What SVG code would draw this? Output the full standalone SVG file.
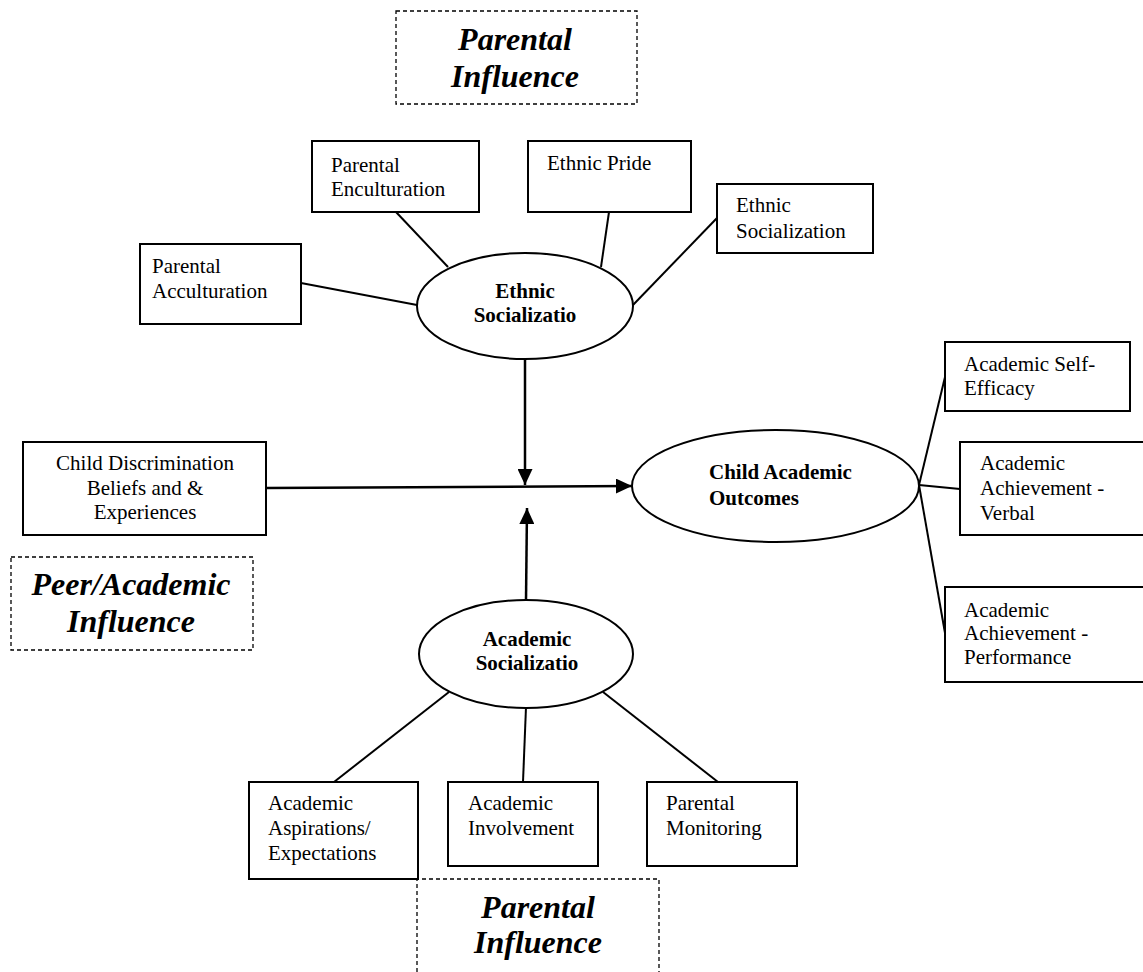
<svg xmlns="http://www.w3.org/2000/svg" width="1143" height="972" viewBox="0 0 1143 972">
<style>
.box{fill:#fff;stroke:#000;stroke-width:2}
.ell{fill:#fff;stroke:#000;stroke-width:2}
.dash{fill:none;stroke:#000;stroke-width:1.3;stroke-dasharray:4 3}
.t{font-family:"Liberation Serif","Times New Roman",serif;font-size:21px;fill:#000}
.b{font-family:"Liberation Serif","Times New Roman",serif;font-size:21px;font-weight:bold;fill:#000;text-anchor:middle}
.big{font-family:"Liberation Serif","Times New Roman",serif;font-size:32px;font-weight:bold;font-style:italic;fill:#000;text-anchor:middle}
.c{text-anchor:middle}
.ln{stroke:#000;stroke-width:2;fill:none}
.ar{stroke:#000;stroke-width:2.5;fill:none}
</style>
<defs>
<marker id="ah" markerUnits="userSpaceOnUse" markerWidth="16" markerHeight="15" refX="16" refY="7.5" orient="auto">
<path d="M0,0 L16,7.5 L0,15 z" fill="#000"/>
</marker>
</defs>
<rect width="1143" height="972" fill="#fff"/>

<g id="connectors">
<line class="ln" x1="301" y1="283" x2="417" y2="305"/>
<line class="ln" x1="396" y1="212" x2="448" y2="267"/>
<line class="ln" x1="609" y1="212" x2="601" y2="267"/>
<line class="ln" x1="717" y1="218" x2="633" y2="305"/>
<line class="ar" x1="525" y1="358" x2="525" y2="485" marker-end="url(#ah)"/>
<line class="ar" x1="266" y1="488" x2="632" y2="486" marker-end="url(#ah)"/>
<line class="ar" x1="526" y1="600" x2="527" y2="508" marker-end="url(#ah)"/>
<line class="ln" x1="919" y1="485" x2="945" y2="377"/>
<line class="ln" x1="919" y1="485" x2="960" y2="489"/>
<line class="ln" x1="919" y1="485" x2="945" y2="633"/>
<line class="ln" x1="449" y1="692" x2="334" y2="782"/>
<line class="ln" x1="526" y1="707" x2="523" y2="782"/>
<line class="ln" x1="603" y1="692" x2="718" y2="782"/>
</g>

<g id="label-parental-top">
<rect class="dash" x="396" y="11" width="241" height="93"/>
<text class="big" x="515" y="50">Parental</text>
<text class="big" x="515" y="87">Influence</text>
</g>

<g id="parental-enculturation">
<rect class="box" x="312" y="141" width="167" height="71"/>
<text class="t" x="331" y="172">Parental</text>
<text class="t" x="331" y="196">Enculturation</text>
</g>

<g id="ethnic-pride">
<rect class="box" x="528" y="141" width="163" height="71"/>
<text class="t" x="547" y="170">Ethnic Pride</text>
</g>

<g id="ethnic-socialization-box">
<rect class="box" x="717" y="184" width="156" height="69"/>
<text class="t" x="736" y="212">Ethnic</text>
<text class="t" x="736" y="238">Socialization</text>
</g>

<g id="parental-acculturation">
<rect class="box" x="140" y="244" width="161" height="80"/>
<text class="t" x="152" y="273">Parental</text>
<text class="t" x="152" y="298">Acculturation</text>
</g>

<g id="ethnic-socializatio">
<ellipse class="ell" cx="525" cy="306" rx="108" ry="53"/>
<text class="b" x="525" y="298">Ethnic</text>
<text class="b" x="525" y="322">Socializatio</text>
</g>

<g id="child-discrimination">
<rect class="box" x="23" y="442" width="243" height="93"/>
<text class="t c" x="145" y="470">Child Discrimination</text>
<text class="t c" x="145" y="495">Beliefs and &amp;</text>
<text class="t c" x="145" y="519">Experiences</text>
</g>

<g id="child-academic-outcomes">
<ellipse class="ell" cx="775.5" cy="486" rx="143.5" ry="56"/>
<text class="b" x="709" y="479" style="text-anchor:start">Child Academic</text>
<text class="b" x="709" y="505" style="text-anchor:start">Outcomes</text>
</g>

<g id="academic-self-efficacy">
<rect class="box" x="945" y="342" width="185" height="69"/>
<text class="t" x="964" y="371">Academic Self-</text>
<text class="t" x="964" y="395">Efficacy</text>
</g>

<g id="academic-achievement-verbal">
<rect class="box" x="960" y="442" width="191" height="93"/>
<text class="t" x="980" y="470">Academic</text>
<text class="t" x="980" y="495">Achievement -</text>
<text class="t" x="980" y="520">Verbal</text>
</g>

<g id="academic-achievement-performance">
<rect class="box" x="945" y="587" width="206" height="95"/>
<text class="t" x="964" y="617">Academic</text>
<text class="t" x="964" y="640">Achievement -</text>
<text class="t" x="964" y="664">Performance</text>
</g>

<g id="label-peer-academic">
<rect class="dash" x="11" y="557" width="242" height="93"/>
<text class="big" x="131" y="595">Peer/Academic</text>
<text class="big" x="131" y="632">Influence</text>
</g>

<g id="academic-socializatio">
<ellipse class="ell" cx="526" cy="654" rx="107" ry="54"/>
<text class="b" x="527" y="646">Academic</text>
<text class="b" x="527" y="670">Socializatio</text>
</g>

<g id="academic-aspirations">
<rect class="box" x="249" y="782" width="169" height="97"/>
<text class="t" x="268" y="810">Academic</text>
<text class="t" x="268" y="835">Aspirations/</text>
<text class="t" x="268" y="860">Expectations</text>
</g>

<g id="academic-involvement">
<rect class="box" x="448" y="782" width="150" height="84"/>
<text class="t" x="468" y="810">Academic</text>
<text class="t" x="468" y="835">Involvement</text>
</g>

<g id="parental-monitoring">
<rect class="box" x="647" y="782" width="150" height="84"/>
<text class="t" x="666" y="810">Parental</text>
<text class="t" x="666" y="835">Monitoring</text>
</g>

<g id="label-parental-bottom">
<path class="dash" d="M417,972 L417,879 L659,879 L659,972"/>
<text class="big" x="538" y="918">Parental</text>
<text class="big" x="538" y="953">Influence</text>
</g>
</svg>
